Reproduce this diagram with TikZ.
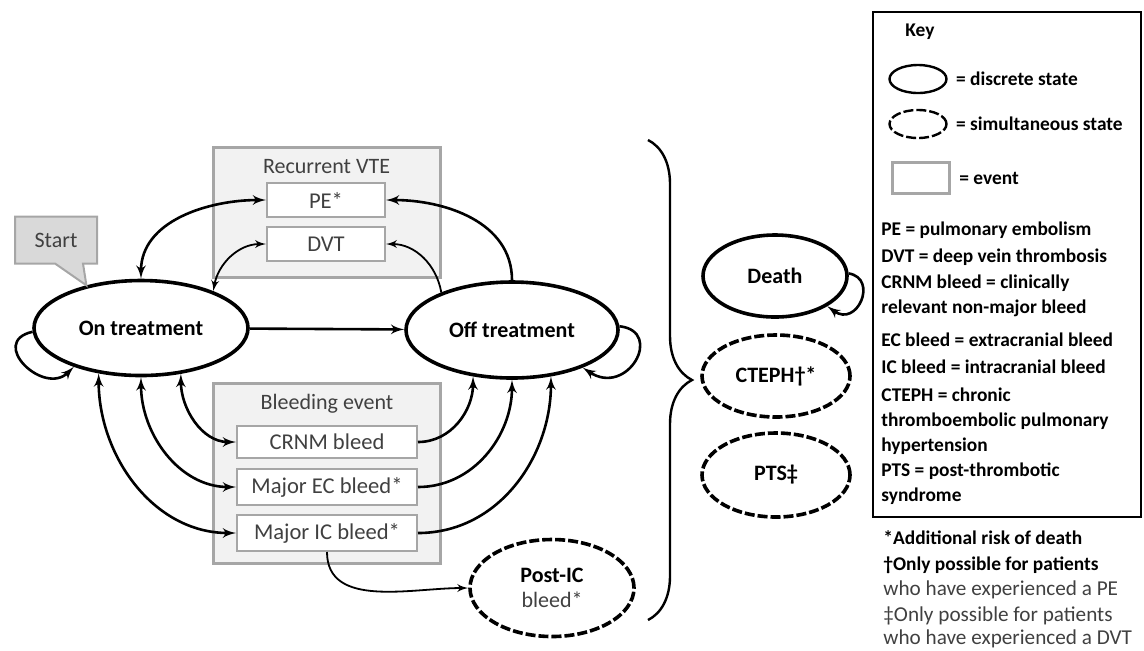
\documentclass[tikz,border=0pt]{standalone}
\usepackage{fontspec}
\setmainfont{Carlito}
\usetikzlibrary{arrows,shapes,positioning,calc,decorations.pathreplacing}
\definecolor{evgray}{HTML}{A6A6A6}
\definecolor{evfill}{HTML}{F2F2F2}
\definecolor{startfill}{HTML}{D9D9D9}
\definecolor{txtgray}{HTML}{404040}
\tikzset{
state/.style = {draw, ellipse, line width=1.8pt, inner sep=0pt, font=\fontsize{11}{12.5}\selectfont\bfseries},
simstate/.style = {state, dash pattern=on 5pt off 1.5pt},
group/.style = {draw=evgray, fill=evfill, rectangle, line width=1.5pt, minimum width=113.5pt},
grouptitle/.style = {font=\fontsize{11}{13}\selectfont, text=txtgray, inner sep=0pt},
event/.style = {draw=evgray, fill=white, rectangle, line width=1pt, inner sep=0pt, font=\fontsize{11.3}{13}\selectfont, text=txtgray},
keytext/.style = {anchor=west, inner sep=0pt, align=left, font=\fontsize{9.7}{12.5}\selectfont\bfseries},
keynote/.style = {keytext, font=\fontsize{10.6}{12.5}\selectfont, text=txtgray},
trans/.style = {line width=1.3pt},
thintrans/.style = {line width=0.9pt}
}

\begin{document}
\begin{tikzpicture}[x=0.5pt, y=-0.5pt, >=latex']
  \useasboundingbox (0,0) rectangle (1144,650);

  % event groups
  \node [group, minimum height=65pt]                 (vte)      at (326.5,212) {};
  \node [grouptitle]                                 (vtetitle) at (326.5,167) {Recurrent VTE};
  \node [event, minimum width=59pt, minimum height=17pt] (pe)   at (326,200)   {PE*};
  \node [event, minimum width=59pt, minimum height=17pt] (dvt)  at (326,244)   {DVT};

  \node [group, minimum height=90pt]                 (bleed)    at (327,473)   {};
  \node [grouptitle]                                 (bleedtitle) at (327,404) {Bleeding event};
  \node [event, minimum width=90pt, minimum height=16pt] (crnm) at (327,442)   {CRNM bleed};
  \node [event, minimum width=90pt, minimum height=18pt] (ec)   at (327,487)   {Major EC bleed*};
  \node [event, minimum width=90pt, minimum height=18pt] (ic)   at (327,533)   {Major IC bleed*};

  % states
  \node [state, minimum width=107pt, minimum height=47.5pt] (on)    at (141,328) {On treatment};
  \node [state, minimum width=106pt, minimum height=48pt]   (off)   at (512,330) {Off treatment};
  \node [simstate, minimum width=82pt, minimum height=48.5pt, align=center] (postic) at (552,588)
        {Post-IC\\{\mdseries\color{txtgray}bleed*}};
  \node [state, minimum width=72pt, minimum height=41pt]    (death) at (775,276) {Death};
  \node [simstate, minimum width=74pt, minimum height=41pt] (cteph) at (776,376) {CTEPH†*};
  \node [simstate, minimum width=74pt, minimum height=42pt] (pts)   at (776,475) {PTS‡};

  \node [rectangle callout, draw=evgray, fill=startfill, line width=1pt,
         minimum width=41pt, minimum height=23.5pt, callout absolute pointer={(on.142)},
         callout pointer width=14pt, font=\fontsize{11}{13}\selectfont, text=txtgray] (start) at (56,240) {Start};

  % transitions
  \draw [->, trans] (on) -- (off);
  \draw [<->, trans]     (on.north) to [out=90, in=180] (pe.west);
  \draw [<->, thintrans] (on.27)    to [out=80, in=180] (dvt.west);
  \draw [->, trans]      (off.north) to [out=90, in=0]  (pe.east);
  \draw [->, thintrans]  (off.152)  to [out=100, in=0]  (dvt.east);
  \draw [<->, trans] (on.-49)  to [out=-90, in=180] (crnm.west);
  \draw [<->, trans] (on.south) to [out=-90, in=180] (ec.west);
  \draw [<->, trans] (on.-133) to [out=-90, in=180] (ic.west);
  \draw [->, trans] (crnm.east) to [out=0, in=-90] (off.-130);
  \draw [->, trans] (ec.east)   to [out=0, in=-90] (off.south);
  \draw [->, trans] (ic.east)   to [out=0, in=-90] (off.-50);
  \draw [->, thintrans] (ic.south) to [out=-90, in=180] (postic.west);

  % self loops
  \draw [->, trans] (on.182)  .. controls +(-45,10) and +(-30,30) .. (on.210);
  \draw [->, trans] (off.2)   .. controls +(45,5) and +(45,30) .. (off.-28);
  \draw [->, trans] (death.2) .. controls +(30,5) and +(30,22) .. (death.-30);

  % absorbing states
  \draw [decorate, decoration={brace, amplitude=22pt}, line width=1.2pt] (648,140) -- (648,620);

  % key
  \node [draw, line width=1pt, minimum width=134pt, minimum height=252.5pt, inner sep=0pt] (key) at (1007,264.5) {};
  \node [keytext] (keytitle) at (905,32) {Key};
  \node [state, line width=1.2pt, minimum width=28.5pt, minimum height=14pt] (keyell) at (918,79) {};
  \node [keytext, right=4pt of keyell] (keyelltext) {= discrete state};
  \node [simstate, line width=1.2pt, minimum width=28.5pt, minimum height=14pt] (keysim) at (918,124) {};
  \node [keytext, right=4pt of keysim] (keysimtext) {= simultaneous state};
  \node [event, line width=1.5pt, minimum width=28.5pt, minimum height=15.5pt] (keyev) at (921,178) {};
  \node [keytext, right=4pt of keyev] (keyevtext) {= event};

  \node [keytext] (abbpe)    at (881,230)   {PE = pulmonary embolism};
  \node [keytext] (abbdvt)   at (881,257)   {DVT = deep vein thrombosis};
  \node [keytext] (abbcrnm)  at (881,295.5) {CRNM bleed = clinically\\relevant non-major bleed};
  \node [keytext] (abbec)    at (881,340)   {EC bleed = extracranial bleed};
  \node [keytext] (abbic)    at (881,367)   {IC bleed = intracranial bleed};
  \node [keytext] (abbcteph) at (881,421)   {CTEPH = chronic\\thromboembolic pulmonary\\hypertension};
  \node [keytext] (abbpts)   at (881,484)   {PTS = post-thrombotic\\syndrome};

  \node [keytext] (note1) at (883,538) {*Additional risk of death};
  \node [keytext] (note2) at (883,565) {†Only possible for patients};
  \node [keynote] (note3) at (883,590) {who have experienced a PE};
  \node [keynote] (note4) at (883,616) {‡Only possible for patients};
  \node [keynote] (note5) at (883,639) {who have experienced a DVT};
\end{tikzpicture}
\end{document}
